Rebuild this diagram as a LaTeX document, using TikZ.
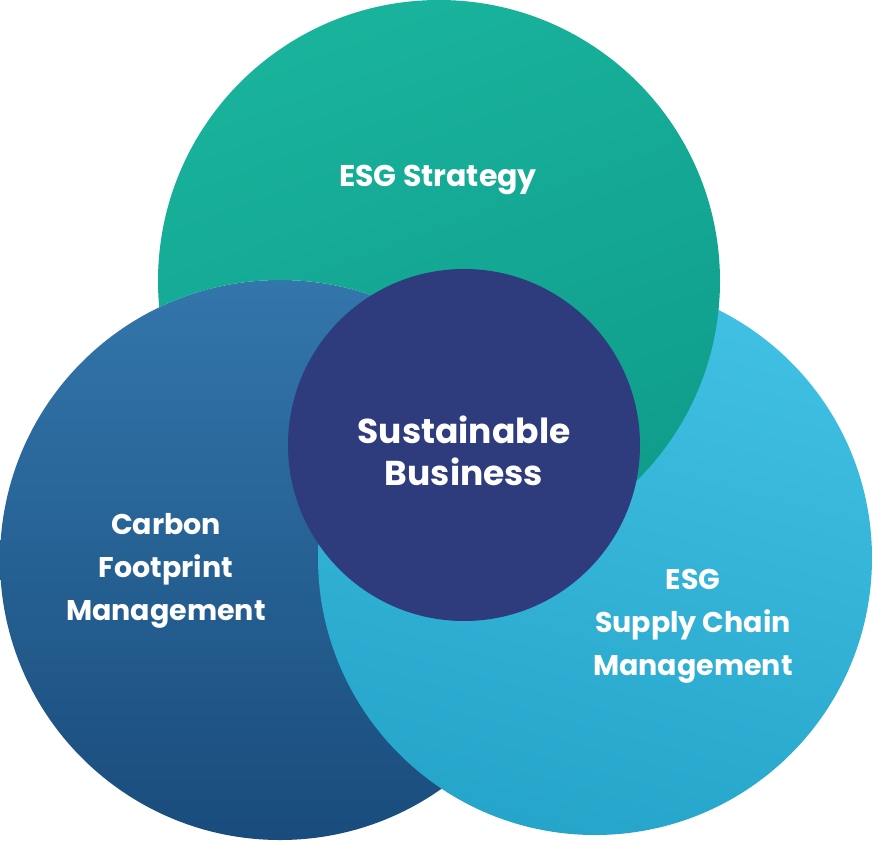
\documentclass[tikz,border=0pt]{standalone}
\usepackage{fontspec}
\setmainfont{Poppins}
\definecolor{gTop}{HTML}{19B39C}
\definecolor{gBot}{HTML}{0F9C8B}
\definecolor{bTop}{HTML}{3376AB}
\definecolor{bBot}{HTML}{194C7C}
\definecolor{lTop}{HTML}{40C0E3}
\definecolor{lBot}{HTML}{26A5CA}
\definecolor{cDark}{HTML}{2E3B7D}
\tikzset{
  lbl/.style={text=white, align=center, font=\bfseries\fontsize{28.5}{43}\selectfont},
  toplbl/.style={text=white, align=center, font=\bfseries\fontsize{30}{43}\selectfont},
  biglbl/.style={text=white, align=center, font=\bfseries\fontsize{34.5}{42}\selectfont},
  greenfill/.style={top color=gTop, bottom color=gBot, shading angle=20},
  bluefill/.style={top color=bTop, bottom color=bBot},
  lightfill/.style={top color=lTop, bottom color=lBot, shading angle=-15},
}
\begin{document}
\begin{tikzpicture}[x=1pt,y=-1pt]
\useasboundingbox (0,0) rectangle (873,841);
\coordinate (gc) at (439,281);
\coordinate (bc) at (280,560);
\coordinate (lc) at (595,558);
\coordinate (cc) at (464,445);
% dark blue (bottom)
\shade[bluefill] (bc) circle[radius=280pt];
% light blue over dark blue
\shade[lightfill] (lc) circle[radius=277pt];
% green over light blue, under dark blue
\begin{scope}[even odd rule]
  \clip (-10,-10) rectangle (900,900) (bc) circle[radius=280pt];
  \shade[greenfill] (gc) circle[radius=281pt];
\end{scope}
% centre
\fill[cDark] (cc) circle[radius=176pt];
\node[toplbl] (t1) at (438,180) {ESG Strategy};
\node[biglbl] (t2) at (464,451) {Sustainable\\Business};
\node[lbl] (t3) at (166,571) {Carbon\\Footprint\\Management};
\node[lbl] (t4) at (693,626) {ESG\\Supply Chain\\Management};
\end{tikzpicture}
\end{document}
